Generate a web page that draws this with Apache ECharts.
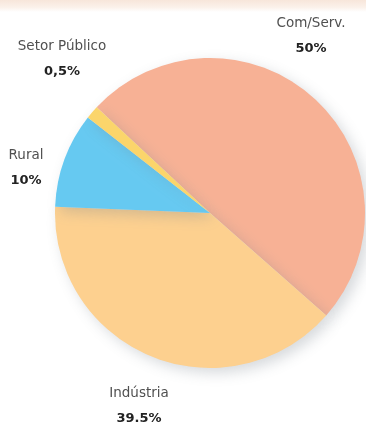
<!DOCTYPE html>
<html>
<head>
<meta charset="utf-8">
<script src="https://cdn.jsdelivr.net/npm/echarts@6/dist/echarts.min.js"></script>
<style>
  html, body { margin: 0; padding: 0; background: #fff; }
  #pie { width: 366px; height: 425px; }
</style>
</head>
<body>
<div id="pie"></div>
<script>
var sectors = ['Com/Serv.', 'Indústria', 'Rural', 'Setor Público'];
var shares = [50, 39.5, 10, 0.5];
var shareText = ['50%', '39.5%', '10%', '0,5%'];
var sliceColors = ['#f7b195', '#fdd08f', '#66c9f1', '#fbd56b'];

// label anchor spots (center-top of each two-line label)
var labelSpots = [[311, 10], [139, 380], [26, 142], [62, 33]];

pieChart('pie');

function pieChart(id) {
    var myChart = echarts.init(document.getElementById(id));

    var data = sectors.map(function (name, i) {
        return { name: name, value: shares[i], itemStyle: { color: sliceColors[i] } };
    });

    var option = {
        animation: false,
        graphic: [
            {
                type: 'rect',
                shape: { x: 0, y: 0, width: 366, height: 12 },
                style: {
                    fill: new echarts.graphic.LinearGradient(0, 0, 0, 1, [
                        { offset: 0, color: '#f7e6da' },
                        { offset: 0.6, color: '#fbf1ea' },
                        { offset: 1, color: '#ffffff' }
                    ])
                },
                silent: true
            }
        ],
        series: [
            {
                type: 'pie',
                center: [210, 213],
                radius: [0, 155],
                startAngle: 137,
                clockwise: true,
                minAngle: 5,
                data: data,
                itemStyle: {
                    shadowBlur: 14,
                    shadowOffsetX: 5,
                    shadowOffsetY: 5,
                    shadowColor: 'rgba(120,130,140,0.3)'
                },
                label: {
                    show: true,
                    position: 'inside',
                    formatter: function (p) {
                        return '{n|' + p.name + '}\n{v|' + shareText[p.dataIndex] + '}';
                    },
                    rich: {
                        n: { fontFamily: 'DejaVu Sans', fontSize: 13.5, color: '#505050', lineHeight: 26, align: 'center' },
                        v: { fontFamily: 'DejaVu Sans', fontSize: 13, fontWeight: 'bold', color: '#222', lineHeight: 26, align: 'center' }
                    },
                    align: 'center'
                },
                labelLine: { show: false },
                labelLayout: function (p) {
                    var s = labelSpots[p.dataIndex];
                    return { x: s[0], y: s[1], align: 'center', verticalAlign: 'top', hideOverlap: false, moveOverlap: null };
                },
                emphasis: { disabled: true }
            }
        ]
    };

    window.addEventListener('resize', function () {
        myChart.resize();
    });
    myChart.setOption(option);
}
</script>
</body>
</html>
